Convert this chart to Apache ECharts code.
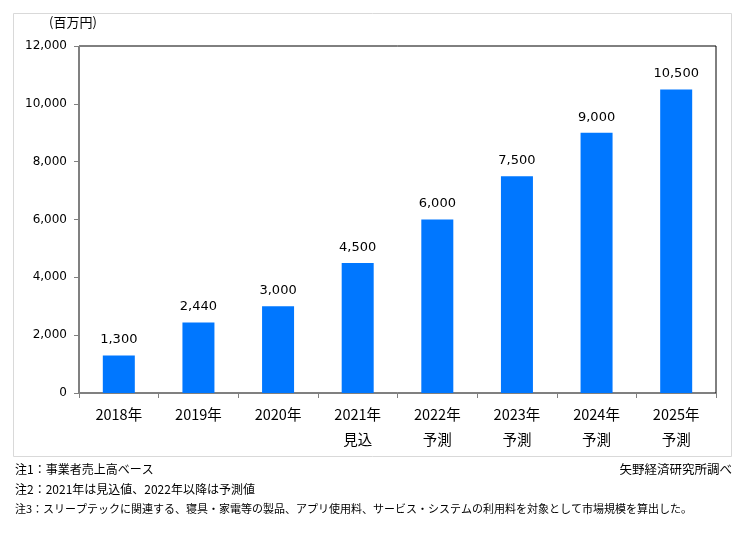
<!DOCTYPE html>
<html>
<head>
<meta charset="utf-8">
<script src="https://cdn.jsdelivr.net/npm/echarts@6/dist/echarts.min.js"></script>
<style>html,body{margin:0;padding:0;background:#fff}#c{width:744px;height:557px}</style>
</head>
<body>
<div id="c"></div>
<script>
var categories = ['2018年', '2019年', '2020年', '2021年\n見込', '2022年\n予測', '2023年\n予測', '2024年\n予測', '2025年\n予測'];
var values = [1300, 2440, 3000, 4500, 6000, 7500, 9000, 10500];
var yTicks = [0, 2000, 4000, 6000, 8000, 10000, 12000];
var unitLabel = '(百万円)';
var notes = ['注1：事業者売上高ベース', '注2：2021年は見込値、2022年以降は予測値', '注3：スリープテックに関連する、寝具・家電等の製品、アプリ使用料、サービス・システムの利用料を対象として市場規模を算出した。'];
var source = '矢野経済研究所調べ';

var chart = echarts.init(document.getElementById('c'), null, {renderer: 'canvas'});
var numFont = 'DejaVu Sans, Verdana, sans-serif';
var jpFont = '"Noto Sans CJK JP", sans-serif';
var noteSizes = [12, 12, 11];
var graphics = [
  {type: 'rect', shape: {x: 13.5, y: 13.5, width: 718, height: 443}, style: {fill: 'none', stroke: '#d9d9d9', lineWidth: 1}, z: -1},
  {type: 'text', left: 49, top: 16, style: {text: unitLabel, font: '13px ' + jpFont, fill: '#000'}},
  {type: 'text', right: 12, top: 463, style: {text: source, font: '12.5px ' + jpFont, fill: '#000'}}
];
notes.forEach(function (n, i) {
  graphics.push({type: 'text', left: 15, top: 463 + i * 20 + (12 - noteSizes[i]) / 2, style: {text: n, font: noteSizes[i] + 'px ' + jpFont, fill: '#000'}});
});

chart.setOption({
  animation: false,
  backgroundColor: '#fff',
  grid: {left: 79, right: 28, top: 46, bottom: 164, show: true, borderColor: '#000', borderWidth: 1},
  xAxis: {
    type: 'category',
    data: categories,
    axisLine: {lineStyle: {color: '#808080'}},
    axisTick: {show: true, alignWithLabel: false, length: 5, lineStyle: {color: '#808080'}},
    axisLabel: {color: '#000', fontSize: 14.5, fontFamily: jpFont, lineHeight: 25, margin: 9, interval: 0}
  },
  yAxis: {
    type: 'value',
    min: yTicks[0],
    max: yTicks[yTicks.length - 1],
    interval: yTicks[1] - yTicks[0],
    axisLine: {show: true, lineStyle: {color: '#808080'}},
    axisTick: {show: true, length: 5, lineStyle: {color: '#808080'}},
    splitLine: {show: false},
    axisLabel: {color: '#000', fontSize: 12, fontFamily: numFont, margin: 12,
      formatter: function (v) { return v.toLocaleString('en-US'); }}
  },
  series: [{
    type: 'bar',
    data: values,
    barWidth: 32,
    itemStyle: {color: '#0077FF'},
    label: {show: true, position: 'top', distance: 9, color: '#000', fontSize: 13, fontFamily: numFont,
      formatter: function (p) { return p.value.toLocaleString('en-US'); }}
  }],
  graphic: graphics
});
</script>
</body>
</html>
